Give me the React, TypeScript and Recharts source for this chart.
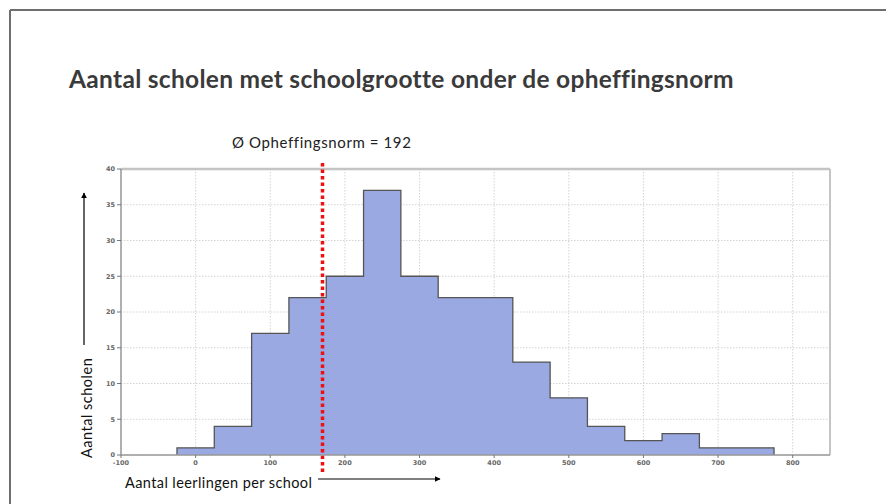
import React from "react";
import {
  ComposedChart,
  Area,
  XAxis,
  YAxis,
  CartesianGrid,
  ReferenceLine,
} from "recharts";

// ---- data ----
const binStarts = [-25, 25, 75, 125, 175, 225, 275, 325, 375, 425, 475, 525, 575, 625, 675, 725];
const counts = [1, 4, 17, 22, 25, 37, 25, 22, 22, 13, 8, 4, 2, 3, 1, 1];
const binWidth = 50;
const xTicks = [-100, 0, 100, 200, 300, 400, 500, 600, 700, 800];
const yTicks = [0, 5, 10, 15, 20, 25, 30, 35, 40];
const xMinorTicks = Array.from({ length: 95 }, (_, i) => -100 + i * 10);
const yMinorTicks = Array.from({ length: 41 }, (_, i) => i);
const xDomain = [-100, 850];
const yDomain = [0, 40];
const normPosition = 170;

const title = "Aantal scholen met schoolgrootte onder de opheffingsnorm";
const normLabel = "Ø Opheffingsnorm = 192";
const xLabel = "Aantal leerlingen per school";
const yLabel = "Aantal scholen";

const lastEdge = binStarts[binStarts.length - 1] + binWidth;
const histData = [
  { x: binStarts[0], y: 0 },
  ...binStarts.map((s, i) => ({ x: s, y: counts[i] })),
  { x: lastEdge, y: 0 },
];

const W = 886;
const H = 504;
const tickStyle = { fontSize: 6.5, fill: "#666", fontFamily: "DejaVu Sans", fontWeight: 700 };

const NormShape = (props: any) => {
  const { x1, y1, x2, y2 } = props;
  return (
    <line
      x1={x1}
      x2={x2}
      y1={Math.min(y1, y2) - 6}
      y2={Math.max(y1, y2) + 17}
      stroke="#ee1111"
      strokeWidth={3.5}
      strokeDasharray="3.5 3"
    />
  );
};

export default function App() {
  return (
    <div style={{ position: "absolute", left: 0, top: 0, width: W, height: H, background: "#fff", overflow: "hidden" }}>
      <ComposedChart
        width={W}
        height={H}
        data={histData}
        margin={{ top: 169, right: 56, bottom: 29, left: 101 }}
      >
        <CartesianGrid stroke="#d4d4d4" strokeDasharray="1.5 1.5" horizontal vertical />
        <XAxis
          dataKey="x"
          type="number"
          domain={xDomain}
          ticks={xTicks}
          interval={0}
          allowDataOverflow
          tick={tickStyle}
          tickSize={3}
          tickLine={{ stroke: "#777" }}
          axisLine={{ stroke: "#999", strokeWidth: 1.5 }}
          height={20}
        />
        <XAxis
          xAxisId="minor"
          dataKey="x"
          type="number"
          domain={xDomain}
          ticks={xMinorTicks}
          interval={0}
          allowDataOverflow
          tick={false}
          tickSize={2}
          tickLine={{ stroke: "#666" }}
          axisLine={false}
          height={0}
        />
        <YAxis
          type="number"
          domain={yDomain}
          ticks={yTicks}
          interval={0}
          tick={tickStyle}
          tickSize={4}
          tickLine={{ stroke: "#777" }}
          axisLine={{ stroke: "#999", strokeWidth: 1.5 }}
          width={20}
        />
        <YAxis
          yAxisId="minor"
          type="number"
          domain={yDomain}
          ticks={yMinorTicks}
          interval={0}
          tick={false}
          tickSize={2}
          tickLine={{ stroke: "#777" }}
          axisLine={false}
          width={0}
        />
        <ReferenceLine y={yDomain[1]} stroke="#c4c4c4" strokeWidth={2.5} ifOverflow="visible" />
        <ReferenceLine x={xDomain[1]} stroke="#c4c4c4" strokeWidth={2} ifOverflow="visible" />
        <Area
          type="stepAfter"
          dataKey="y"
          stroke="#555"
          strokeWidth={1.3}
          fill="#9aa9e2"
          fillOpacity={1}
          isAnimationActive={false}
          dot={false}
          activeDot={false}
        />
        <ReferenceLine x={normPosition} ifOverflow="visible" shape={NormShape} />
      </ComposedChart>

      <svg
        width={W}
        height={H}
        style={{ position: "absolute", left: 0, top: 0, pointerEvents: "none" }}
      >
        <defs>
          <marker id="arr" viewBox="0 0 10 10" refX="9" refY="5" markerWidth="5" markerHeight="5" orient="auto">
            <path d="M0,0 L10,5 L0,10 z" fill="#000" />
          </marker>
        </defs>
        <line x1={10} y1={10} x2={W} y2={10} stroke="#6e6e6e" strokeWidth={2} />
        <line x1={10} y1={10} x2={10} y2={H} stroke="#6e6e6e" strokeWidth={2} />
        <text x={69} y={88} fontFamily="Lato" fontWeight={700} fontSize={24.5} letterSpacing={0.3} fill="#3a3a3a">
          {title}
        </text>
        <text x={232} y={148} fontFamily="Lato" fontSize={15} letterSpacing={0.6} fill="#222">
          {normLabel}
        </text>
        <text x={125} y={488} fontFamily="Lato" fontSize={14.5} letterSpacing={0.4} fill="#111">
          {xLabel}
        </text>
        <line x1={318} y1={479} x2={440} y2={479} stroke="#000" strokeWidth={1.2} markerEnd="url(#arr)" />
        <text
          x={0}
          y={0}
          fontFamily="Lato"
          fontSize={14.5}
          letterSpacing={0.5}
          fill="#111"
          transform="translate(92,458) rotate(-90)"
        >
          {yLabel}
        </text>
        <line x1={84} y1={345} x2={84} y2={193} stroke="#000" strokeWidth={1.2} markerEnd="url(#arr)" />
      </svg>
    </div>
  );
}
